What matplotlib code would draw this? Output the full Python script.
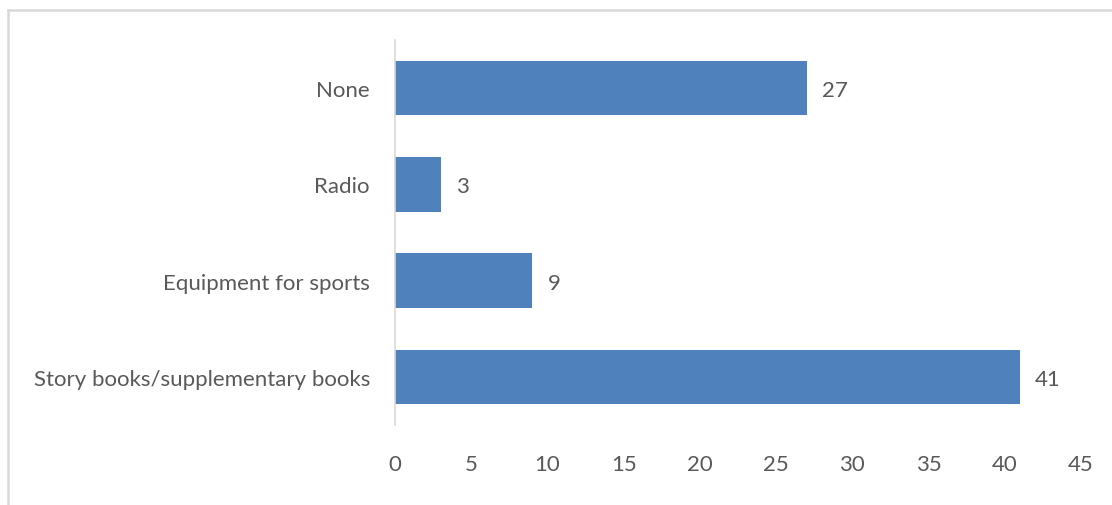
import matplotlib
matplotlib.use("Agg")
import matplotlib.pyplot as plt
from matplotlib.lines import Line2D

categories = ["Story books/supplementary books", "Equipment for sports", "Radio", "None"]
values = [41, 9, 3, 27]
xticks = [0, 5, 10, 15, 20, 25, 30, 35, 40, 45]

plt.rcParams['font.family'] = ['Lato', 'DejaVu Sans']
TXT = "#595959"
BAR = "#4F81BD"
FS = 16

fig = plt.figure(figsize=(11.12, 5.06), dpi=100)
ax = fig.add_axes([0.3552, 0.1581, 0.6169, 0.7609])

y = range(len(categories))
bars = ax.barh(y, values, height=0.565, color=BAR)
for b, v in zip(bars, values):
    ax.text(b.get_width() + 1.0, b.get_y() + b.get_height() / 2, str(v),
            va="center_baseline", ha="left", fontsize=FS, color=TXT)

ax.set_xlim(0, 45)
ax.set_ylim(-0.5, len(categories) - 0.5)
ax.set_yticks(list(y))
ax.set_yticklabels(categories)
for lbl in ax.get_yticklabels():
    lbl.set_va("center_baseline")
ax.set_xticks(xticks)
ax.tick_params(axis="both", length=0, colors=TXT, labelsize=FS)
ax.tick_params(axis="y", pad=18)
ax.tick_params(axis="x", pad=21)
for s in ("top", "right", "bottom"):
    ax.spines[s].set_visible(False)
ax.spines["left"].set_color("#d9d9d9")
ax.spines["left"].set_linewidth(1.2)

# chart frame (top and left edges visible)
fig.add_artist(Line2D([7.5 / 1112, 1], [1 - 10.5 / 506, 1 - 10.5 / 506],
                      transform=fig.transFigure, color="#d9d9d9", lw=1.8))
fig.add_artist(Line2D([7.5 / 1112, 7.5 / 1112], [0, 1 - 10.5 / 506],
                      transform=fig.transFigure, color="#d9d9d9", lw=1.8))

fig.savefig("out.png", dpi=100)
